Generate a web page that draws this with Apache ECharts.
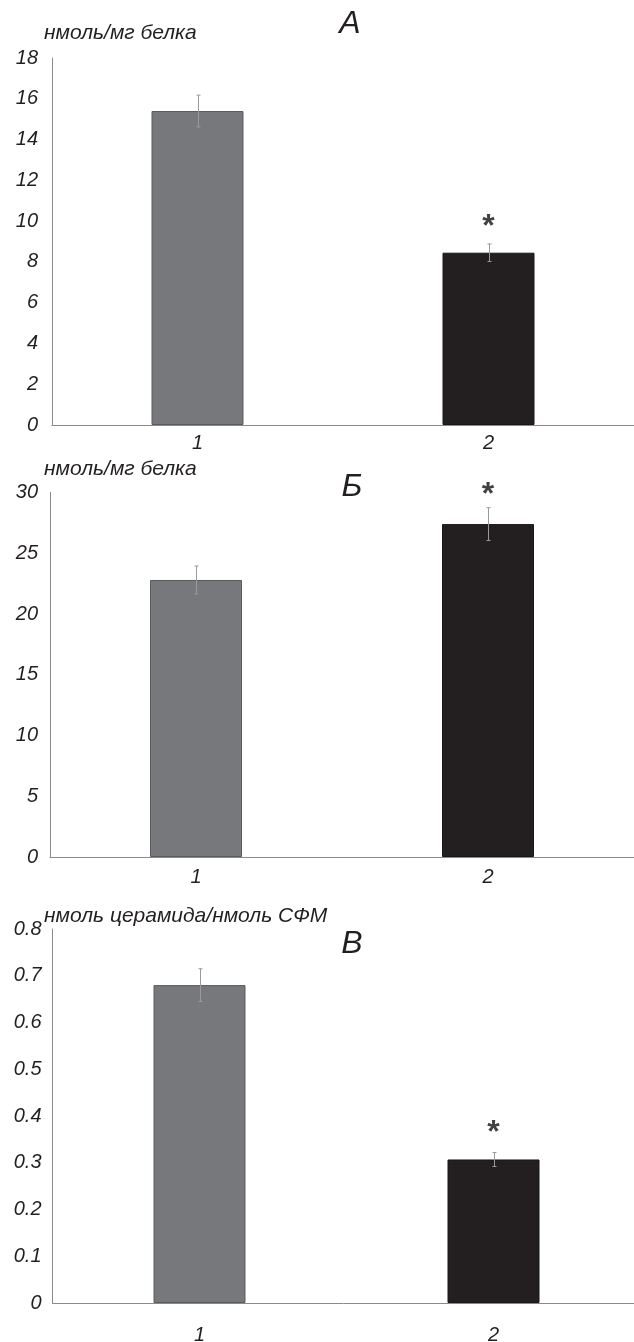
<!DOCTYPE html>
<html>
<head>
<meta charset="utf-8">
<script src="https://cdn.jsdelivr.net/npm/echarts@6/dist/echarts.min.js"></script>
<style>html,body{margin:0;padding:0;background:#fff}#c{width:634px;height:1342px}</style>
</head>
<body>
<div id="c"></div>
<script>
var categories = ['1', '2'];
var panelTitles = ['А', 'Б', 'В'];
var unitNames = ['нмоль/мг белка', 'нмоль/мг белка', 'нмоль церамида/нмоль СФМ'];
var meansA = [15.4, 8.45];
var errA = [0.78, 0.43];
var meansB = [22.8, 27.4];
var errB = [1.15, 1.35];
var meansC = [0.68, 0.307];
var errC = [0.035, 0.015];
var starA = [null, 10.1];
var starB = [null, 30.4];
var starC = [null, 0.38];
var yMaxes = [18, 30, 0.8];
var yIntervals = [2, 5, 0.1];

var barColors = ['#77787c', '#231f20'];
var barBorders = ['#5b5c5f', '#1a1718'];
var textColor = '#231f20';
var axisColor = '#8a8a8a';
var font = 'Liberation Sans, Arial, sans-serif';

var grids = [
  {left: 52, top: 58, width: 582, height: 367, outerBoundsMode: 'none', containLabel: false},
  {left: 50, top: 492.5, width: 584, height: 364.5, outerBoundsMode: 'none', containLabel: false},
  {left: 52.5, top: 929, width: 588, height: 374, outerBoundsMode: 'none', containLabel: false}
];
var xLabelMargins = [8, 10, 22];
var yLabelMargins = [14, 12, 11];
var labelPos = [
  {title: [350, 24], unit: [44, 33]},
  {title: [352, 487], unit: [44, 469]},
  {title: [352, 944], unit: [44, 916]}
];

var means = [meansA, meansB, meansC];
var errs = [errA, errB, errC];
var stars = [starA, starB, starC];

var xAxes = [], yAxes = [], series = [], graphics = [];
for (var i = 0; i < 3; i++) {
  xAxes.push({
    type: 'category', gridIndex: i, data: categories,
    axisLine: {lineStyle: {color: axisColor, width: 1}},
    axisTick: {show: false},
    axisLabel: {fontSize: 20, fontStyle: 'italic', color: textColor, fontFamily: font, margin: xLabelMargins[i]}
  });
  yAxes.push({
    type: 'value', gridIndex: i, min: 0, max: yMaxes[i], interval: yIntervals[i],
    axisLine: {show: true, lineStyle: {color: axisColor, width: 1}},
    axisTick: {show: false},
    splitLine: {show: false},
    axisLabel: {fontSize: 20, fontStyle: 'italic', color: textColor, fontFamily: font, margin: yLabelMargins[i],
      formatter: function (v) { return String(Math.round(v * 10) / 10); }}
  });
  (function (idx) {
    series.push({
      type: 'bar', xAxisIndex: idx, yAxisIndex: idx, barWidth: 92, z: 2,
      data: means[idx].map(function (v, k) {
        return {value: v, itemStyle: {color: barColors[k], borderColor: barBorders[k], borderWidth: 1}};
      }),
      silent: true, animation: false
    });
    series.push({
      type: 'custom', xAxisIndex: idx, yAxisIndex: idx, silent: true, animation: false, z: 5,
      data: means[idx].map(function (v, k) { return [k, v - errs[idx][k], v + errs[idx][k]]; }),
      renderItem: function (params, api) {
        var lo = api.coord([api.value(0), api.value(1)]);
        var hi = api.coord([api.value(0), api.value(2)]);
        var x = Math.round(lo[0]) + 0.5;
        var st = {stroke: '#9a9a9a', lineWidth: 1};
        return {type: 'group', children: [
          {type: 'line', shape: {x1: x, y1: lo[1], x2: x, y2: hi[1]}, style: st},
          {type: 'line', shape: {x1: x - 2, y1: lo[1], x2: x + 2, y2: lo[1]}, style: st},
          {type: 'line', shape: {x1: x - 2, y1: hi[1], x2: x + 2, y2: hi[1]}, style: st}
        ]};
      }
    });
    series.push({
      type: 'scatter', xAxisIndex: idx, yAxisIndex: idx, silent: true, animation: false,
      clip: false, symbolSize: 0, z: 6,
      data: stars[idx].map(function (v, k) { return v == null ? null : [k, v]; }).filter(function (d) { return d; }),
      label: {show: true, position: 'inside', formatter: '*', fontSize: 32, fontWeight: 'bold', color: '#111',
        fontFamily: font, offset: [0, 8]}
    });
  })(i);
  graphics.push({
    type: 'text', x: labelPos[i].title[0], y: labelPos[i].title[1],
    style: {text: panelTitles[i], fontSize: 32, fontStyle: 'italic', fill: textColor, fontFamily: font,
      textAlign: 'center', textVerticalAlign: 'middle'}
  });
  graphics.push({
    type: 'text', x: labelPos[i].unit[0], y: labelPos[i].unit[1],
    style: {text: unitNames[i], fontSize: 21, fontStyle: 'italic', fill: textColor, fontFamily: font,
      textAlign: 'left', textVerticalAlign: 'middle'}
  });
}

var chart = echarts.init(document.getElementById('c'), null, {renderer: 'canvas'});
chart.setOption({
  animation: false,
  grid: grids,
  xAxis: xAxes,
  yAxis: yAxes,
  series: series,
  graphic: graphics
});
</script>
</body>
</html>
